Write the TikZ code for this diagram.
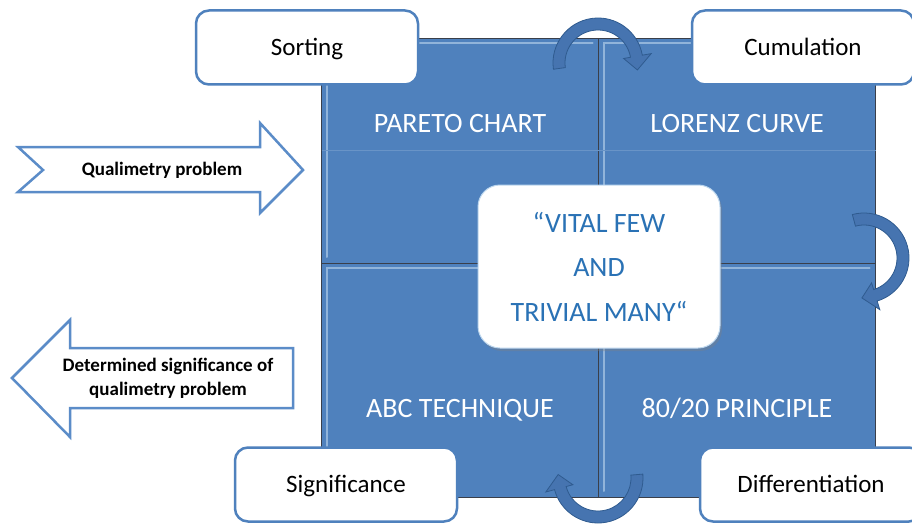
\documentclass[tikz,border=0pt]{standalone}
\usepackage{fontspec}
\setmainfont{Carlito}
\usepackage{tikz}
\usetikzlibrary{positioning, calc, shadows}
\definecolor{quadblue}{HTML}{4F81BD}
\definecolor{quadedge}{HTML}{3A3F4A}
\definecolor{bevel}{HTML}{BDD7EE}
\definecolor{boxblue}{HTML}{4F81BD}
\definecolor{turnfill}{HTML}{4674B0}
\definecolor{turnedge}{HTML}{2F5B8F}
\definecolor{vitaltext}{HTML}{2A72B5}
\definecolor{blockedge}{HTML}{5B8CC8}
% curved turn arrow: centre, start angle, end angle
\newcommand{\turnarrow}[3]{%
  \path[turn] ($(#1)+(#2:45)$) arc[start angle=#2, end angle=#3, radius=45]
    -- ($(#1)+(#3:54)$) -- ($(#1)+(#3+20:40)$) -- ($(#1)+(#3:26)$)
    -- ($(#1)+(#3:33)$) arc[start angle=#3, end angle=#2, radius=33] -- cycle;}

\begin{document}
\begin{tikzpicture}[x=1pt, y=-1pt,
    quad/.style={draw=quadedge, line width=0.8pt, fill=quadblue,
                 minimum width=277pt, inner sep=0pt, outer sep=0pt},
    quadtext/.style={text=white, font=\fontsize{28}{32}\selectfont,
                     text height=18pt, text depth=0pt},
    stagebox/.style={draw=boxblue, line width=2.5pt, fill=white,
                     rounded corners=13pt, minimum width=222pt,
                     minimum height=74pt, text height=16pt, text depth=0pt,
                     font=\fontsize{25}{30}\selectfont},
    block/.style={draw=blockedge, line width=2.5pt, fill=white},
    blocktext/.style={font=\bfseries\fontsize{19}{24}\selectfont, align=center},
    turn/.style={fill=turnfill, draw=turnedge, line width=0.8pt},
    bevelline/.style={draw=bevel, draw opacity=0.6, line width=2pt, line cap=round},
    vitalbox/.style={fill=white, draw=bevel, line width=1pt, rounded corners=22pt,
                     minimum width=242pt, minimum height=163pt, align=center,
                     text=vitaltext, font=\fontsize{28}{44.5}\selectfont,
                     drop shadow={opacity=0.35, shadow xshift=2pt, shadow yshift=-3pt}}
]
\path[use as bounding box, fill=white] (0,0) rectangle (912,524);
% ============== four quadrants ==================
\node[quad, minimum height=225pt] (pareto) at (460,150.5) {};
\node[quad, minimum height=225pt, right=0pt of pareto] (lorenz) {};
\node[quad, minimum height=234pt, below=0pt of pareto] (abc) {};
\node[quad, minimum height=234pt, right=0pt of abc] (principle) {};
\foreach \q in {pareto, lorenz, abc, principle}
  \draw[bevelline] ([xshift=5pt, yshift=6pt]\q.south west)
    -- ([xshift=5pt, yshift=-5pt]\q.north west)
    -- ([xshift=-6pt, yshift=-5pt]\q.north east);
\draw[quadblue!85!white, line width=0.6pt] (pareto.west) -- (lorenz.east);
\node[quadtext] (paretolbl) at ([yshift=-85pt]pareto.north) {PARETO CHART};
\node[quadtext] (lorenzlbl) at ([yshift=-85pt]lorenz.north) {LORENZ CURVE};
\node[quadtext] (abclbl) at ([yshift=89pt]abc.south) {ABC TECHNIQUE};
\node[quadtext] (principlelbl) at ([yshift=89pt]principle.south) {80/20 PRINCIPLE};
% ============== turning arrows ==================
\coordinate (topturn) at (598,63);
\coordinate (rightturn) at (864,258);
\coordinate (bottomturn) at (598,478);
\turnarrow{topturn}{172}{350}
\turnarrow{rightturn}{255}{433}
\turnarrow{bottomturn}{-5}{165}
% ============== stage boxes ==================
\node[stagebox] (sorting) at (307,47.5) {Sorting};
\node[stagebox] (cumulation) at (803,47.5) {Cumulation};
\node[stagebox] (significance) at (346,484.5) {Significance};
\node[stagebox] (differentiation) at (811,484.5) {Differentiation};
% ============== centre ==================
\node[vitalbox] (vital) at (599,266.5) {“VITAL FEW\\AND\\TRIVIAL MANY“};
% ============== block arrows ==================
\path[block] (18,147) -- (260,147) -- (260,123) -- (303,170) -- (260,213)
  -- (260,192) -- (18,192) -- (43,170) -- cycle;
\node[blocktext] (problemtxt) at (162,170) {Qualimetry problem};
\path[block] (12,378) -- (70,320) -- (70,348) -- (293,348) -- (293,408)
  -- (70,408) -- (70,437) -- cycle;
\node[blocktext] (resulttxt) at (168,378) {Determined significance of\\qualimetry problem};
\end{tikzpicture}
\end{document}
